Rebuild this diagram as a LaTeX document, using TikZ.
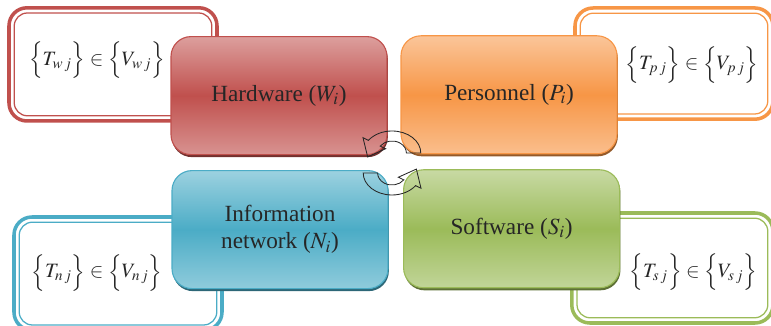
\documentclass[tikz,border=0pt]{standalone}
\usepackage{mathptmx}
\usepackage{fontspec}
\setmainfont{Liberation Serif}
\usepackage{xcolor}
\usepackage{tikz}
\usetikzlibrary{shadows}
\usetikzlibrary{calc}
\definecolor{hwred}{HTML}{C0504D}
\definecolor{psorange}{HTML}{F79646}
\definecolor{netblue}{HTML}{4BACC6}
\definecolor{swgreen}{HTML}{9BBB59}
\tikzset{frame/.style={rectangle,rounded corners=0.45cm,line width=2.5pt,outer sep=0pt}}
\tikzset{block/.style={rectangle,rounded corners=0.5cm,line width=0.8pt,align=center,minimum width=5.4cm,minimum height=2.95cm,text=black!85,font=\rmfamily\fontsize{16.5}{19}\selectfont}}
\tikzset{turnarrow/.pic={
  \draw[black!85, line width=0.6pt] (0.72,0) arc[start angle=0, end angle=145, x radius=0.72, y radius=0.55]
    -- (-0.725,0.382) -- (-0.609,-0.098) -- (-0.160,0.106) -- (-0.295,0.172)
    arc[start angle=145, end angle=0, x radius=0.36, y radius=0.3] -- cycle;
}}

\begin{document}
\begin{tikzpicture}[font=\rmfamily\fontsize{14.5}{17}\selectfont]

	\useasboundingbox (0,0) rectangle (19.275,8.15);

	% outer frames
	\foreach \name/\col/\x/\y/\w/\h in {hwset/hwred/2.825/6.54/5.2/2.83, psset/psorange/16.85/6.56/4.95/2.78,
	                                    netset/netblue/2.95/1.31/5.2/2.83, swset/swgreen/16.81/1.45/5.03/2.75}{
		\node[frame, draw=\col, minimum width=\w cm, minimum height=\h cm] (\name) at (\x,\y) {};
		\draw[\col, line width=0.9pt, rounded corners=0.33cm] ($(\name.south west)+(0.13,0.13)$) rectangle ($(\name.north east)-(0.13,0.13)$);
	}

	% rules
	\foreach \name/\s/\x/\y in {hwrule/w/2.425/6.65, psrule/p/17.3/6.53, netrule/n/2.425/1.33, swrule/s/17.33/1.35}{
		\node[black!85] (\name) at (\x,\y) {$\Big\{T_{\s\,j}\Big\}\in\Big\{V_{\s\,j}\Big\}$};
	}

	% main blocks
	\foreach \name/\col/\x/\y/\txt in {hw/hwred/6.975/5.76/{Hardware ($W_i$)}, ps/psorange/12.725/5.78/{Personnel ($P_i$)},
	                                  net/netblue/7.0/2.41/{Information\\network ($N_i$)}, sw/swgreen/12.79/2.43/{Software ($S_i$)}}{
		\node[block, draw=\col, top color=\col!55!white, bottom color=\col!62!white, middle color=\col,
		      drop shadow={shadow xshift=0.6pt, shadow yshift=-1.8pt, opacity=1, fill=\col!60!black}]
		      (\name) at (\x,\y) {\txt};
	}

	% turning arrows
	\pic at (9.8,4.325) {turnarrow};
	\pic[rotate=180] at (9.8,3.825) {turnarrow};

\end{tikzpicture}
\end{document}
